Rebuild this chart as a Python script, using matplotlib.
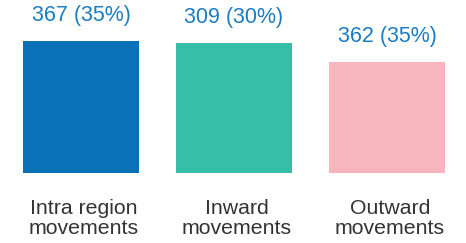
import matplotlib.pyplot as plt
import matplotlib.transforms as mtransforms
import numpy as np

# ---------------------------------------------------------------------------
# Data
# ---------------------------------------------------------------------------
categories = ["Intra region\nmovements", "Inward\nmovements", "Outward\nmovements"]
counts = [367, 309, 362]
shares = [35, 30, 35]
# drawn bar heights as they appear in the picture (not proportional to counts)
bar_heights = [132, 130, 111]
bar_colors = ["#0a70b8", "#36bea9", "#f7b6be"]

LABEL_COLOR = "#1a7cc1"
TEXT_COLOR = "#333333"

plt.rcParams["font.family"] = ["Liberation Sans", "DejaVu Sans"]

fig = plt.figure(figsize=(4.66, 2.43), dpi=100)
ax = fig.add_axes([0, 70 / 243, 1, 173 / 243])

x = np.arange(len(categories))
bars = ax.bar(x, bar_heights, width=0.758, color=bar_colors)

for rect, n, pct in zip(bars, counts, shares):
    ax.annotate(
        f"{n} ({pct}%)",
        xy=(rect.get_x() + rect.get_width() / 2, rect.get_height()),
        xytext=(0, 11),
        textcoords="offset points",
        ha="center",
        va="bottom",
        fontsize=15.5,
        color=LABEL_COLOR,
    )

ax.set_xlim(-81 / 153, 385 / 153)
ax.set_ylim(0, 173)
ax.set_xticks(x)
ax.set_xticklabels(categories, fontsize=15.3, color=TEXT_COLOR, linespacing=1.12)
ax.tick_params(axis="x", length=0, pad=18.5)
# category labels sit a touch right of the bar centres
shift = mtransforms.ScaledTranslation(3 / 100, 0, fig.dpi_scale_trans)
for lbl in ax.get_xticklabels():
    lbl.set_transform(lbl.get_transform() + shift)
ax.set_yticks([])
for spine in ax.spines.values():
    spine.set_visible(False)

fig.savefig("out.png", dpi=100)
